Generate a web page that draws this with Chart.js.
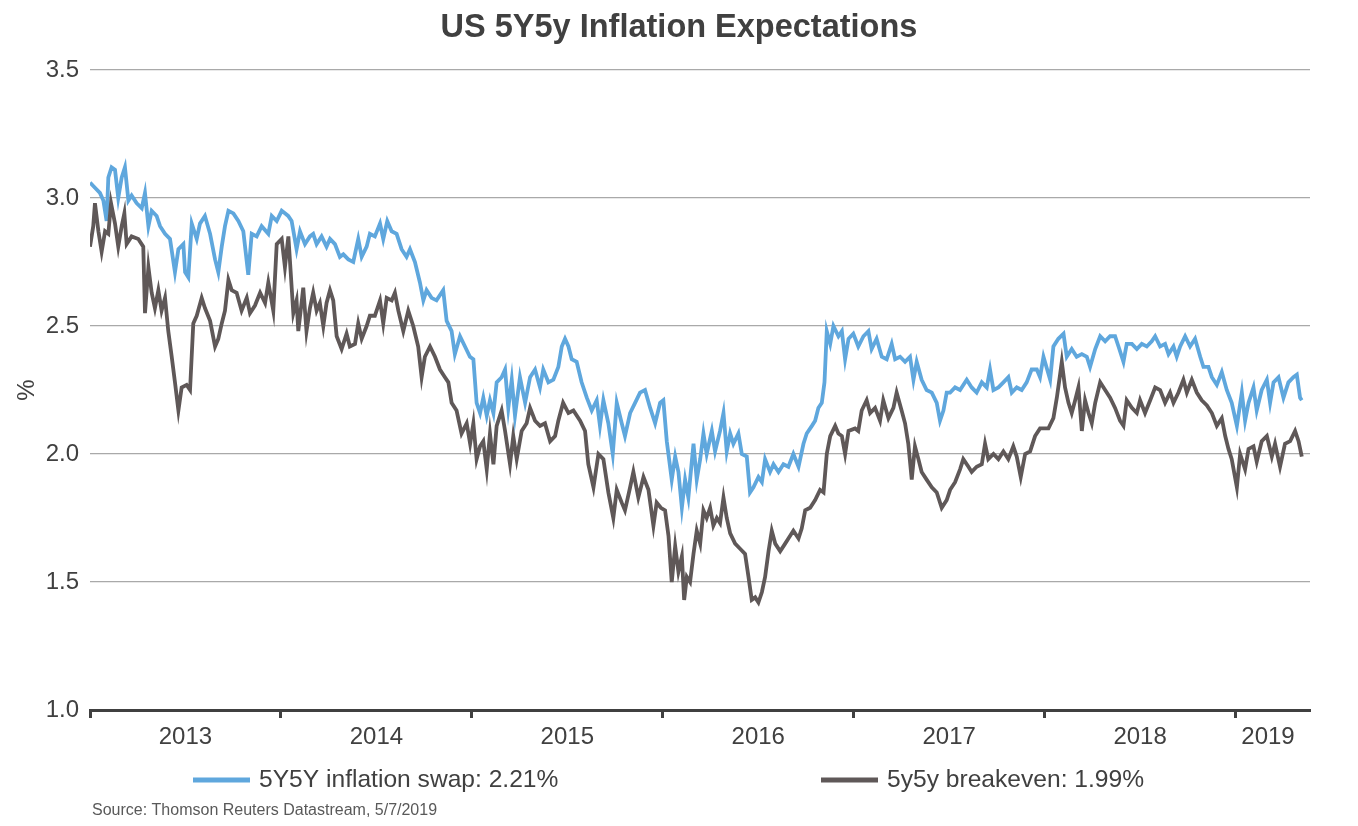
<!DOCTYPE html>
<html>
<head>
<meta charset="utf-8">
<script src="https://cdn.jsdelivr.net/npm/chart.js@4.4.1/dist/chart.umd.min.js"></script>
<style>
  html, body { margin: 0; padding: 0; background: #ffffff; }
  #wrap { width: 1358px; height: 826px; position: relative; }
</style>
</head>
<body>
<div id="wrap"><canvas id="c"></canvas></div>
<script>
// ---- DATA (decimal years, %) ----
const chartTitle = 'US 5Y5y Inflation Expectations';
const sourceNote = 'Source: Thomson Reuters Datastream, 5/7/2019';
const yearTicks = [2013, 2014, 2015, 2016, 2017, 2018, 2019];
const yearLabelPos = [2013.5, 2014.5, 2015.5, 2016.5, 2017.5, 2018.5, 2019.17];
const yearLabels = ['2013', '2014', '2015', '2016', '2017', '2018', '2019'];
const seriesNames = ['5Y5Y inflation swap: 2.21%', '5y5y breakeven: 1.99%'];

const swapDates = [
2013.000,2013.026,2013.052,2013.070,2013.087,2013.096,2013.113,2013.131,2013.148,2013.166,2013.183,2013.201,2013.218,2013.244,2013.271,2013.288,2013.306,2013.323,2013.349,2013.367,2013.393,2013.419,2013.445,2013.463,2013.489,2013.498,2013.515,2013.533,2013.559,2013.576,2013.602,2013.629,2013.655,2013.672,2013.690,2013.707,2013.725,2013.751,2013.777,2013.803,2013.829,2013.847,2013.873,2013.899,2013.934,2013.952,2013.978,
2014.004,2014.021,2014.038,2014.056,2014.082,2014.100,2014.126,2014.152,2014.169,2014.187,2014.213,2014.239,2014.257,2014.283,2014.309,2014.327,2014.353,2014.379,2014.405,2014.423,2014.449,2014.466,2014.492,2014.519,2014.536,2014.557,2014.580,2014.606,2014.632,2014.658,2014.676,2014.702,2014.728,2014.746,2014.763,2014.789,2014.815,2014.850,2014.868,2014.894,2014.911,2014.938,2014.964,2014.990,
2015.008,2015.025,2015.043,2015.060,2015.078,2015.095,2015.113,2015.130,2015.156,2015.174,2015.191,2015.209,2015.226,2015.252,2015.279,2015.305,2015.331,2015.357,2015.374,2015.401,2015.427,2015.453,2015.471,2015.488,2015.506,2015.523,2015.549,2015.575,2015.602,2015.628,2015.654,2015.671,2015.689,2015.715,2015.738,2015.759,2015.785,2015.802,2015.829,2015.855,2015.881,2015.907,2015.934,2015.960,2015.986,
2016.003,2016.021,2016.047,2016.065,2016.082,2016.100,2016.117,2016.134,2016.161,2016.178,2016.196,2016.213,2016.230,2016.257,2016.274,2016.300,2016.318,2016.335,2016.353,2016.370,2016.396,2016.414,2016.440,2016.457,2016.475,2016.501,2016.519,2016.536,2016.562,2016.580,2016.606,2016.632,2016.658,2016.684,2016.711,2016.737,2016.754,2016.781,2016.798,2016.815,2016.833,2016.847,2016.859,2016.877,2016.894,2016.920,2016.938,2016.955,2016.973,2016.998,
2017.024,2017.051,2017.077,2017.094,2017.120,2017.147,2017.173,2017.199,2017.217,2017.243,2017.269,2017.295,2017.313,2017.330,2017.356,2017.382,2017.409,2017.435,2017.452,2017.470,2017.487,2017.505,2017.531,2017.557,2017.592,2017.618,2017.644,2017.671,2017.697,2017.714,2017.732,2017.758,2017.784,2017.810,2017.828,2017.854,2017.880,2017.906,2017.932,2017.959,2017.976,2017.994,
2018.029,2018.046,2018.072,2018.099,2018.116,2018.142,2018.168,2018.195,2018.221,2018.238,2018.265,2018.291,2018.317,2018.343,2018.369,2018.387,2018.413,2018.430,2018.457,2018.483,2018.509,2018.535,2018.561,2018.579,2018.605,2018.631,2018.649,2018.675,2018.692,2018.710,2018.736,2018.762,2018.788,2018.815,2018.832,2018.858,2018.876,2018.902,2018.928,2018.954,2018.980,
2019.007,2019.033,2019.050,2019.068,2019.094,2019.111,2019.137,2019.164,2019.181,2019.199,2019.225,2019.251,2019.277,2019.303,2019.321,2019.338,2019.347
];
const swapValues = [
3.06,3.04,3.02,2.99,2.91,3.08,3.12,3.11,3.00,3.08,3.12,2.99,3.01,2.98,2.96,3.02,2.89,2.95,2.93,2.89,2.86,2.84,2.71,2.80,2.82,2.71,2.69,2.90,2.84,2.90,2.93,2.86,2.76,2.71,2.81,2.89,2.95,2.94,2.91,2.87,2.70,2.86,2.85,2.89,2.86,2.93,2.91,
2.95,2.94,2.93,2.91,2.80,2.87,2.82,2.85,2.86,2.82,2.85,2.81,2.84,2.82,2.77,2.78,2.76,2.75,2.84,2.77,2.81,2.86,2.85,2.90,2.84,2.91,2.87,2.86,2.80,2.77,2.80,2.75,2.67,2.60,2.64,2.61,2.60,2.64,2.52,2.48,2.39,2.46,2.42,2.38,
2.37,2.20,2.16,2.22,2.15,2.21,2.16,2.28,2.30,2.33,2.18,2.29,2.15,2.30,2.20,2.30,2.33,2.26,2.33,2.28,2.29,2.34,2.42,2.45,2.42,2.37,2.36,2.28,2.22,2.17,2.21,2.11,2.21,2.12,2.00,2.20,2.12,2.07,2.16,2.20,2.24,2.25,2.18,2.12,2.20,
2.21,2.05,1.90,1.99,1.93,1.79,1.90,1.83,2.04,1.90,1.98,2.08,2.00,2.09,2.01,2.09,2.16,2.01,2.08,2.04,2.08,2.00,1.99,1.85,1.87,1.91,1.89,1.98,1.93,1.96,1.93,1.96,1.95,2.00,1.95,2.04,2.08,2.11,2.13,2.18,2.20,2.28,2.48,2.43,2.50,2.46,2.48,2.37,2.45,2.47,
2.42,2.46,2.48,2.41,2.45,2.38,2.37,2.43,2.37,2.38,2.36,2.38,2.29,2.36,2.29,2.25,2.24,2.20,2.13,2.17,2.24,2.24,2.26,2.25,2.29,2.26,2.24,2.28,2.26,2.33,2.25,2.26,2.28,2.30,2.24,2.26,2.25,2.28,2.33,2.33,2.30,2.38,
2.29,2.42,2.45,2.47,2.38,2.41,2.38,2.39,2.38,2.34,2.41,2.46,2.44,2.46,2.46,2.42,2.36,2.43,2.43,2.41,2.43,2.42,2.44,2.46,2.42,2.43,2.39,2.42,2.38,2.42,2.46,2.42,2.45,2.38,2.34,2.34,2.30,2.27,2.32,2.25,2.20,
2.11,2.24,2.13,2.20,2.26,2.17,2.25,2.29,2.20,2.28,2.30,2.22,2.28,2.30,2.31,2.22,2.21
];

const beDates = [
2013.000,2013.017,2013.026,2013.044,2013.061,2013.079,2013.096,2013.110,2013.131,2013.148,2013.166,2013.180,2013.192,2013.218,2013.253,2013.279,2013.288,2013.306,2013.323,2013.340,2013.358,2013.375,2013.393,2013.410,2013.428,2013.445,2013.463,2013.480,2013.506,2013.524,2013.541,2013.559,2013.585,2013.602,2013.629,2013.655,2013.672,2013.690,2013.707,2013.725,2013.742,2013.768,2013.794,2013.821,2013.838,2013.864,2013.891,2013.917,2013.934,2013.960,2013.978,
2014.004,2014.021,2014.039,2014.065,2014.082,2014.091,2014.108,2014.117,2014.134,2014.152,2014.169,2014.187,2014.204,2014.222,2014.239,2014.257,2014.274,2014.292,2014.318,2014.344,2014.361,2014.388,2014.405,2014.423,2014.449,2014.466,2014.492,2014.519,2014.536,2014.554,2014.580,2014.597,2014.615,2014.641,2014.667,2014.693,2014.719,2014.737,2014.754,2014.781,2014.807,2014.833,2014.859,2014.877,2014.894,2014.920,2014.946,2014.973,2014.991,
2015.008,2015.025,2015.043,2015.060,2015.078,2015.095,2015.113,2015.130,2015.156,2015.174,2015.200,2015.217,2015.235,2015.261,2015.287,2015.305,2015.331,2015.357,2015.383,2015.410,2015.436,2015.453,2015.478,2015.506,2015.532,2015.567,2015.593,2015.610,2015.637,2015.663,2015.689,2015.715,2015.741,2015.759,2015.785,2015.802,2015.829,2015.846,2015.872,2015.899,2015.925,2015.951,2015.968,2015.990,
2016.012,2016.030,2016.047,2016.065,2016.082,2016.100,2016.112,2016.126,2016.143,2016.161,2016.178,2016.196,2016.213,2016.230,2016.248,2016.265,2016.283,2016.300,2016.318,2016.335,2016.353,2016.379,2016.405,2016.431,2016.449,2016.466,2016.484,2016.501,2016.519,2016.536,2016.554,2016.571,2016.589,2016.615,2016.641,2016.658,2016.684,2016.711,2016.728,2016.746,2016.772,2016.798,2016.824,2016.842,2016.859,2016.877,2016.903,2016.920,2016.938,2016.955,2016.973,
2017.007,2017.024,2017.042,2017.068,2017.086,2017.112,2017.138,2017.155,2017.182,2017.208,2017.225,2017.251,2017.269,2017.286,2017.304,2017.321,2017.339,2017.356,2017.382,2017.409,2017.435,2017.461,2017.487,2017.505,2017.531,2017.557,2017.574,2017.601,2017.618,2017.644,2017.671,2017.688,2017.705,2017.732,2017.758,2017.784,2017.810,2017.836,2017.854,2017.875,2017.898,2017.924,2017.950,2017.976,
2018.020,2018.046,2018.064,2018.081,2018.090,2018.107,2018.125,2018.142,2018.160,2018.177,2018.195,2018.212,2018.230,2018.247,2018.265,2018.291,2018.317,2018.343,2018.369,2018.395,2018.413,2018.430,2018.457,2018.483,2018.500,2018.526,2018.553,2018.579,2018.605,2018.631,2018.657,2018.675,2018.701,2018.727,2018.745,2018.771,2018.797,2018.823,2018.850,2018.876,2018.902,2018.928,2018.946,2018.963,2018.980,
2019.007,2019.024,2019.050,2019.068,2019.094,2019.111,2019.137,2019.164,2019.190,2019.207,2019.233,2019.259,2019.286,2019.312,2019.330,2019.347
];
const beValues = [
2.81,2.89,2.98,2.87,2.79,2.87,2.86,2.98,2.90,2.81,2.89,2.94,2.82,2.85,2.84,2.81,2.55,2.73,2.63,2.57,2.64,2.56,2.61,2.48,2.38,2.28,2.17,2.26,2.27,2.25,2.51,2.54,2.61,2.57,2.52,2.42,2.45,2.51,2.56,2.68,2.64,2.63,2.56,2.61,2.55,2.58,2.63,2.59,2.67,2.56,2.82,
2.84,2.73,2.85,2.55,2.60,2.48,2.59,2.65,2.48,2.57,2.63,2.56,2.59,2.50,2.59,2.64,2.60,2.46,2.41,2.47,2.42,2.43,2.51,2.45,2.50,2.54,2.54,2.60,2.51,2.61,2.60,2.63,2.56,2.48,2.56,2.50,2.42,2.30,2.38,2.42,2.38,2.33,2.30,2.28,2.20,2.17,2.08,2.12,2.04,
2.12,1.98,2.03,2.05,1.94,2.08,1.96,2.11,2.17,2.09,1.96,2.07,1.98,2.09,2.12,2.18,2.13,2.11,2.12,2.05,2.07,2.13,2.20,2.16,2.17,2.13,2.09,1.96,1.87,2.00,1.98,1.85,1.75,1.86,1.81,1.78,1.87,1.93,1.83,1.91,1.86,1.72,1.81,1.79,
1.78,1.68,1.50,1.64,1.54,1.60,1.43,1.52,1.50,1.61,1.70,1.65,1.78,1.75,1.79,1.72,1.75,1.73,1.83,1.75,1.69,1.65,1.63,1.61,1.52,1.43,1.44,1.42,1.46,1.52,1.62,1.70,1.65,1.62,1.65,1.67,1.70,1.67,1.71,1.78,1.79,1.82,1.86,1.85,2.00,2.07,2.11,2.08,2.07,2.00,2.09,
2.10,2.09,2.17,2.21,2.16,2.18,2.13,2.21,2.14,2.18,2.24,2.17,2.12,2.04,1.90,2.03,1.98,1.93,1.90,1.87,1.85,1.79,1.82,1.86,1.89,1.94,1.98,1.95,1.93,1.95,1.96,2.04,1.98,2.00,1.98,2.01,1.98,2.03,1.99,1.91,2.00,2.01,2.07,2.10,
2.10,2.14,2.22,2.31,2.36,2.26,2.20,2.16,2.21,2.26,2.09,2.21,2.16,2.12,2.20,2.28,2.25,2.22,2.18,2.13,2.11,2.21,2.18,2.16,2.21,2.16,2.21,2.26,2.25,2.20,2.24,2.20,2.24,2.29,2.24,2.29,2.24,2.21,2.19,2.16,2.11,2.14,2.07,2.02,1.98,
1.87,2.00,1.94,2.02,2.03,1.97,2.05,2.07,1.99,2.04,1.95,2.04,2.05,2.09,2.05,1.99
];

const swapColor = '#5fa7dd';
const beColor = '#5f5858';
const textColor = '#404040';
const fontFamily = '"Liberation Sans", Arial, Helvetica, sans-serif';

function toPoints(xs, ys) { return xs.map((x, i) => ({ x: x, y: ys[i] })); }

const annotationPlugin = {
  id: 'customTitleLegend',
  afterDraw(chart) {
    const ctx = chart.ctx;
    const W = chart.width;
    ctx.save();
    // title
    ctx.fillStyle = textColor;
    ctx.font = 'bold 32.5px ' + fontFamily;
    ctx.textAlign = 'center';
    ctx.textBaseline = 'middle';
    ctx.fillText(chartTitle, W / 2, 28);
    // legend
    const items = [
      { color: swapColor, text: seriesNames[0], x0: 193 },
      { color: beColor, text: seriesNames[1], x0: 821 }
    ];
    const y = 780;
    items.forEach(it => {
      ctx.strokeStyle = it.color;
      ctx.lineWidth = 5;
      ctx.beginPath();
      ctx.moveTo(it.x0, y);
      ctx.lineTo(it.x0 + 57, y);
      ctx.stroke();
      ctx.fillStyle = textColor;
      ctx.font = '24.6px ' + fontFamily;
      ctx.textBaseline = 'middle';
      ctx.textAlign = 'left';
      ctx.fillText(it.text, it.x0 + 66, y);
    });
    // source
    ctx.fillStyle = '#595959';
    ctx.font = '16px ' + fontFamily;
    ctx.textAlign = 'left';
    ctx.textBaseline = 'middle';
    ctx.fillText(sourceNote, 92, 811);
    ctx.restore();
  }
};

new Chart(document.getElementById('c'), {
  type: 'line',
  data: {
    datasets: [
      {
        label: seriesNames[0],
        data: toPoints(swapDates, swapValues),
        borderColor: swapColor,
        borderWidth: 3.8,
        pointRadius: 0,
        tension: 0,
        order: 1
      },
      {
        label: seriesNames[1],
        data: toPoints(beDates, beValues),
        borderColor: beColor,
        borderWidth: 3.8,
        pointRadius: 0,
        tension: 0,
        order: 0
      }
    ]
  },
  options: {
    responsive: true,
    maintainAspectRatio: false,
    animation: false,
    layout: { padding: { left: 0, right: 48, top: 70, bottom: 0 } },
    plugins: {
      legend: { display: false },
      tooltip: { enabled: false },
      title: { display: false }
    },
    scales: {
      x: {
        type: 'linear',
        min: 2013,
        max: 2019.39,
        afterBuildTicks(scale) {
          const t = [];
          yearTicks.forEach(v => t.push({ value: v }));
          yearLabelPos.forEach(v => t.push({ value: v }));
          t.sort((a, b) => a.value - b.value);
          scale.ticks = t;
        },
        afterFit(scale) { scale.height = 116; },
        ticks: {
          autoSkip: false,
          maxRotation: 0,
          color: textColor,
          padding: 5,
          font: { family: fontFamily, size: 24 },
          callback(value) {
            const i = yearLabelPos.indexOf(value);
            return i >= 0 ? yearLabels[i] : '';
          }
        },
        grid: {
          drawOnChartArea: false,
          drawTicks: true,
          tickLength: 8,
          tickWidth: 3,
          tickColor(ctx) {
            return (ctx.tick && yearTicks.indexOf(ctx.tick.value) >= 0) ? textColor : 'rgba(0,0,0,0)';
          }
        },
        border: { display: true, color: textColor, width: 3 }
      },
      y: {
        min: 1,
        max: 3.5,
        afterFit(scale) { scale.width = 90; },
        ticks: {
          stepSize: 0.5,
          color: textColor,
          padding: 11,
          font: { family: fontFamily, size: 24 },
          callback(v) { return Number(v).toFixed(1); }
        },
        grid: {
          color: '#a9a9a9',
          lineWidth: 1.3,
          drawTicks: false
        },
        border: { display: false },
        title: {
          display: true,
          text: '%',
          color: textColor,
          font: { family: fontFamily, size: 24 },
          padding: { top: 13, bottom: 0 }
        }
      }
    }
  },
  plugins: [annotationPlugin]
});
</script>
</body>
</html>
